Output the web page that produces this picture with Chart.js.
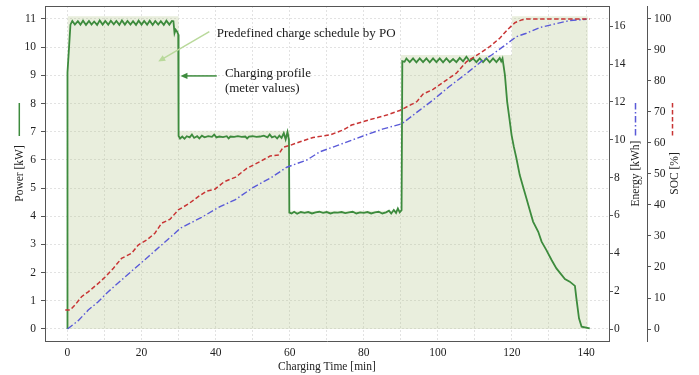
<!DOCTYPE html>
<html>
<head>
<meta charset="utf-8">
<script src="https://cdn.jsdelivr.net/npm/chart.js@4.4.1/dist/chart.umd.min.js"></script>
<style>
  html, body { margin: 0; padding: 0; background: #fff; }
  #wrap { width: 699px; height: 375px; position: relative; }
</style>
</head>
<body>
<div id="wrap"><canvas id="chart"></canvas></div>
<script>
// Metered charging power [min, kW]
const powerMeter = [
    [0, 0], [0, 9.1], [0.8, 10.8], [1.3, 10.93], [2.0, 10.8], [2.8, 10.92], [3.5, 10.8], [4.2, 10.94],
    [5.0, 10.79], [5.8, 10.93], [6.5, 10.8], [7.2, 10.91], [8.0, 10.79], [8.7, 10.95], [9.5, 10.8],
    [10.2, 10.93], [11.0, 10.8], [11.7, 10.94], [12.5, 10.81], [13.2, 10.93], [14.0, 10.79], [14.7, 10.95],
    [15.5, 10.8], [16.2, 10.93], [17.0, 10.8], [17.7, 10.92], [18.5, 10.79], [19.2, 10.94], [20.0, 10.8],
    [20.7, 10.93], [21.5, 10.8], [22.2, 10.94], [23.0, 10.79], [23.7, 10.93], [24.5, 10.8], [25.2, 10.92],
    [26.0, 10.79], [26.7, 10.94], [27.5, 10.8], [28.2, 10.93], [28.6, 10.92], [28.9, 10.5], [29.2, 10.62],
    [29.6, 10.55], [29.9, 10.45], [30.0, 6.85],
    [30.4, 6.76], [31.0, 6.83], [31.6, 6.75], [32.2, 6.84], [33.0, 6.8], [33.6, 6.9], [34.2, 6.78],
    [35.0, 6.84], [35.6, 6.76], [36.3, 6.86], [37.0, 6.8], [38.0, 6.84], [39.0, 6.82], [39.6, 6.9],
    [40.2, 6.8], [41.0, 6.83], [42.0, 6.81], [43.0, 6.84], [43.5, 6.76], [44.0, 6.83], [45.0, 6.82],
    [46.0, 6.84], [47.0, 6.82], [48.0, 6.83], [48.5, 6.76], [49.0, 6.83], [50.0, 6.84], [51.0, 6.82],
    [52.0, 6.83], [53.0, 6.86], [54.0, 6.8], [54.6, 6.9], [55.2, 6.8], [56.0, 6.84], [56.6, 6.76],
    [57.2, 6.86], [57.8, 6.78], [58.4, 6.95], [58.9, 6.73], [59.4, 6.99], [59.8, 6.7], [59.9, 4.13],
    [60.5, 4.1], [61.2, 4.16], [62, 4.09], [63, 4.15], [64, 4.12], [65, 4.15], [66, 4.1], [67, 4.14],
    [68, 4.16], [69, 4.12], [70, 4.15], [71, 4.1], [72, 4.14], [73, 4.13], [74, 4.15], [75, 4.11],
    [76, 4.14], [77, 4.16], [78, 4.1], [79, 4.14], [80, 4.12], [81, 4.15], [82, 4.1], [83, 4.14],
    [84, 4.16], [85, 4.1], [86, 4.14], [86.8, 4.2], [87.4, 4.1], [88.1, 4.22], [88.7, 4.12],
    [89.2, 4.28], [89.7, 4.14], [90.2, 4.22], [90.4, 9.5],
    [91.0, 9.48], [91.5, 9.6], [92.4, 9.47], [93.3, 9.6], [94.2, 9.46], [95.1, 9.6], [96.0, 9.47],
    [96.9, 9.6], [97.8, 9.46], [98.7, 9.6], [99.6, 9.47], [100.5, 9.6], [101.4, 9.46], [102.3, 9.6],
    [103.2, 9.47], [104.1, 9.58], [105.0, 9.47], [105.9, 9.62], [106.8, 9.5], [107.7, 9.66], [108.6, 9.5],
    [109.5, 9.6], [110.4, 9.47], [111.3, 9.6], [112.2, 9.47], [113.1, 9.6], [114.0, 9.46], [114.9, 9.6],
    [115.8, 9.47], [116.7, 9.62], [117.1, 9.5], [117.45, 9.6],
    [118.1, 9.01], [118.7, 8.07], [119.3, 7.48], [119.9, 6.88], [120.5, 6.47], [121.2, 6.06],
    [122.1, 5.46], [123.0, 5.05], [123.9, 4.64], [124.8, 4.22], [125.7, 3.81], [127.1, 3.45],
    [128.0, 3.10], [129.3, 2.80], [130.7, 2.45], [132.0, 2.15], [133.4, 1.92], [134.3, 1.77],
    [135.6, 1.68], [137.0, 1.53], [137.4, 1.09], [138.1, 0.38], [138.8, 0.08], [141.0, 0.02]
];

// Charged energy [min, kWh]
const energyMeter = [
    [0, 0], [2.9, 0.44], [5.6, 1.0], [8.3, 1.44], [11, 1.97], [14.6, 2.59], [18.2, 3.21], [21.8, 3.82],
    [25.4, 4.44], [29, 5.06], [30.4, 5.32], [36.2, 5.9], [41.2, 6.47], [45.2, 6.82], [50.2, 7.49],
    [55, 8.0], [59.2, 8.55], [64.6, 8.93], [68.2, 9.37], [74, 9.78], [79.8, 10.2], [85, 10.56],
    [90.3, 10.85], [95.1, 11.57], [98.7, 12.1], [103, 12.8], [107.7, 13.5], [112, 14.18], [114.5, 14.48],
    [117.6, 14.92], [121.2, 15.45], [123.9, 15.63], [127.5, 15.93], [131.1, 16.1], [135.6, 16.3],
    [140.1, 16.37]
];

// State of charge [min, %]
const socMeter = [
    [-0.6, 6.1], [0.7, 6.1], [2.0, 7.7], [3.8, 10.4], [5.6, 12.0], [8.3, 14.7], [10.1, 16.7],
    [12.4, 19.6], [14.6, 22.8], [17.3, 24.4], [19.1, 27.1], [21.4, 28.7], [23.6, 30.9], [25.4, 34.1],
    [27.7, 35.4], [29.9, 38.4], [32.6, 40.3], [35.3, 42.7], [37.6, 44.5], [39.8, 45.1], [42.3, 47.5],
    [45.4, 49.0], [48.4, 51.8], [52.0, 54.0], [54.7, 55.8], [56.9, 56.1], [58.2, 58.6], [60.0, 59.2],
    [62.8, 60.4], [66.3, 61.8], [70.9, 62.6], [74.4, 64.2], [76.7, 65.8], [81.6, 67.5], [86.2, 69.0],
    [89.7, 70.5], [92.5, 72.2], [94.3, 73.3], [96.0, 75.8], [98.7, 77.3], [102.3, 80.3], [105.0, 82.5],
    [107.7, 86.2], [111.3, 88.9], [114.0, 91.1], [116.7, 93.8], [119.0, 96.8], [120.8, 98.8],
    [122.6, 99.7], [124, 100], [141, 100]
];

// Charge schedule predefined by the PO (step function)
const scheduleTime = [0, 30, 60, 90, 120, 140.5];
const scheduleKw = [11.1, 7.03, 4.2, 9.72, 11.1, 11.1];

// Tick values
const timeTicks = [0, 10, 20, 30, 40, 50, 60, 70, 80, 90, 100, 110, 120, 130, 140];
const powerTicks = [0, 1, 2, 3, 4, 5, 6, 7, 8, 9, 10, 11];
const energyTicks = [0, 2, 4, 6, 8, 10, 12, 14, 16];
const socTicks = [0, 10, 20, 30, 40, 50, 60, 70, 80, 90, 100];

const serif = "'Liberation Serif', 'Times New Roman', serif";
const GREEN = '#3d8b3d';
const BLUE = '#5a5ad8';
const RED = '#c83434';
const BLUE_DASH = [6.5, 2.5, 1.5, 2.5];
const RED_DASH = [4.5, 2.5];
const SPINE = '#555';
const GRID = '#e2e2e2';
const TEXT = '#222';

const tickFont = {family: serif, size: 11.5};

const toPoints = rows => rows.map(([x, y]) => ({x, y}));

function setTicks(values) {
    return scale => { scale.ticks = values.map(v => ({value: v})); };
}

// annotation texts and arrows, placed in data coordinates (min, kW)
const notes = [
    {text: 'Predefined charge schedule by PO', t: 40.3, kw: 10.37},
    {text: 'Charging profile', t: 42.5, kw: 8.93},
    {text: '(meter values)', t: 42.5, kw: 8.42},
];
const arrows = [
    {from: [38.3, 10.55], to: [24.5, 9.49], color: '#b9d99b'},
    {from: [40.3, 8.98], to: [30.5, 8.98], color: GREEN},
];

const notesPlugin = {
    id: 'notes',
    afterDatasetsDraw(chart) {
        const {ctx, scales: {x, y}} = chart;
        ctx.save();
        arrows.forEach(a => {
            const x0 = x.getPixelForValue(a.from[0]), y0 = y.getPixelForValue(a.from[1]);
            const x1 = x.getPixelForValue(a.to[0]), y1 = y.getPixelForValue(a.to[1]);
            const ang = Math.atan2(y1 - y0, x1 - x0);
            const len = 7, half = 3.2;
            const cos = Math.cos(ang), sin = Math.sin(ang);
            ctx.strokeStyle = a.color;
            ctx.fillStyle = a.color;
            ctx.lineWidth = 1.5;
            ctx.beginPath();
            ctx.moveTo(x0, y0);
            ctx.lineTo(x1 - len * 0.8 * cos, y1 - len * 0.8 * sin);
            ctx.stroke();
            ctx.beginPath();
            ctx.moveTo(x1, y1);
            ctx.lineTo(x1 - len * cos + half * sin, y1 - len * sin - half * cos);
            ctx.lineTo(x1 - len * cos - half * sin, y1 - len * sin + half * cos);
            ctx.closePath();
            ctx.fill();
        });
        ctx.font = '13px ' + serif;
        ctx.fillStyle = '#1a1a1a';
        ctx.textAlign = 'left';
        ctx.textBaseline = 'alphabetic';
        notes.forEach(n => ctx.fillText(n.text, x.getPixelForValue(n.t), y.getPixelForValue(n.kw)));
        ctx.restore();
    }
};

// y axis titles read bottom-to-top on both sides, each with its line sample above
const axisTitles = {
    id: 'axisTitles',
    afterDraw(chart) {
        const {ctx, chartArea, scales} = chart;
        const midY = (chartArea.top + chartArea.bottom) / 2;
        const items = [
            {text: 'Power [kW]', x: scales.y.left + 20, sx: scales.y.left + 19.3, color: GREEN, dash: []},
            {text: 'Energy [kWh]', x: scales.yEnergy.left + 27, sx: scales.yEnergy.left + 26.5, color: BLUE, dash: BLUE_DASH},
            {text: 'SOC [%]', x: scales.ySoc.left + 28, sx: scales.ySoc.left + 25.5, color: RED, dash: RED_DASH},
        ];
        ctx.save();
        ctx.font = '11.5px ' + serif;
        ctx.fillStyle = TEXT;
        ctx.textAlign = 'center';
        ctx.textBaseline = 'middle';
        items.forEach(it => {
            ctx.save();
            ctx.translate(it.x, midY);
            ctx.rotate(-Math.PI / 2);
            ctx.fillText(it.text, 0, 0);
            ctx.restore();
            ctx.strokeStyle = it.color;
            ctx.lineWidth = 1.5;
            ctx.setLineDash(it.dash);
            ctx.beginPath();
            ctx.moveTo(it.sx, chartArea.top + 97);
            ctx.lineTo(it.sx, chartArea.top + 130);
            ctx.stroke();
        });
        // top frame line
        ctx.setLineDash([]);
        ctx.strokeStyle = SPINE;
        ctx.lineWidth = 1;
        ctx.beginPath();
        ctx.moveTo(chartArea.left, Math.round(chartArea.top) + 0.5);
        ctx.lineTo(chartArea.right, Math.round(chartArea.top) + 0.5);
        ctx.stroke();
        ctx.restore();
    }
};

new Chart(document.getElementById('chart'), {
    type: 'line',
    data: {
        datasets: [{
            label: 'Charge schedule',
            data: scheduleTime.map((t, i) => ({x: t, y: scheduleKw[i]})),
            yAxisID: 'y',
            stepped: true,
            fill: 'origin',
            backgroundColor: 'rgba(182,198,142,0.3)',
            borderColor: 'transparent',
            borderWidth: 0,
            pointRadius: 0,
            order: 4
        }, {
            label: 'Power',
            data: toPoints(powerMeter),
            yAxisID: 'y',
            borderColor: GREEN,
            borderWidth: 1.8,
            pointRadius: 0,
            fill: false,
            order: 3
        }, {
            label: 'Energy',
            data: toPoints(energyMeter),
            yAxisID: 'yEnergy',
            borderColor: BLUE,
            borderDash: BLUE_DASH,
            borderWidth: 1.4,
            pointRadius: 0,
            fill: false,
            order: 2
        }, {
            label: 'SOC',
            data: toPoints(socMeter),
            yAxisID: 'ySoc',
            borderColor: RED,
            borderDash: RED_DASH,
            borderWidth: 1.5,
            pointRadius: 0,
            fill: false,
            order: 1
        }]
    },
    options: {
        responsive: true,
        maintainAspectRatio: false,
        animation: false,
        layout: {padding: {top: 6, left: 0, right: 0, bottom: 0}},
        plugins: {
            legend: {display: false},
            tooltip: {enabled: false}
        },
        scales: {
            x: {
                type: 'linear',
                position: 'bottom',
                min: -6.07,
                max: 146.2,
                afterBuildTicks: setTicks(timeTicks),
                afterFit: s => { s.height = 34; s.paddingLeft = 0; s.paddingRight = 0; },
                ticks: {
                    autoSkip: false,
                    maxRotation: 0,
                    font: tickFont,
                    color: TEXT,
                    padding: 5,
                    callback: v => (v % 20 === 0 ? v : '')
                },
                grid: {color: GRID, drawTicks: false},
                border: {color: SPINE, width: 1, dash: [2, 2]},
                title: {
                    display: true,
                    text: 'Charging Time [min]',
                    font: {family: serif, size: 11.5},
                    color: TEXT,
                    padding: {top: 0, bottom: 1.5}
                }
            },
            y: {
                type: 'linear',
                position: 'left',
                min: -0.426,
                max: 11.461,
                afterBuildTicks: setTicks(powerTicks),
                afterFit: s => { s.width = 45; s.paddingTop = 0; s.paddingBottom = 0; },
                ticks: {autoSkip: false, font: tickFont, color: TEXT, padding: 5},
                grid: {color: GRID, tickLength: 4, tickColor: SPINE},
                border: {color: SPINE, width: 1, dash: [2, 2]}
            },
            yEnergy: {
                type: 'linear',
                position: 'right',
                weight: 0,
                min: -0.634,
                max: 17.07,
                afterBuildTicks: setTicks(energyTicks),
                afterFit: s => { s.width = 38; s.paddingTop = 0; s.paddingBottom = 0; },
                ticks: {autoSkip: false, font: tickFont, color: TEXT, padding: 1},
                grid: {drawOnChartArea: false, tickLength: 4, tickColor: SPINE},
                border: {color: SPINE, width: 1}
            },
            ySoc: {
                type: 'linear',
                position: 'right',
                weight: 1,
                min: -3.87,
                max: 104.19,
                afterBuildTicks: setTicks(socTicks),
                afterFit: s => { s.width = 52; s.paddingTop = 0; s.paddingBottom = 0; },
                ticks: {autoSkip: false, font: tickFont, color: TEXT, padding: 3},
                grid: {drawOnChartArea: false, tickLength: 4, tickColor: SPINE},
                border: {color: SPINE, width: 1}
            }
        }
    },
    plugins: [notesPlugin, axisTitles]
});
</script>
</body>
</html>
